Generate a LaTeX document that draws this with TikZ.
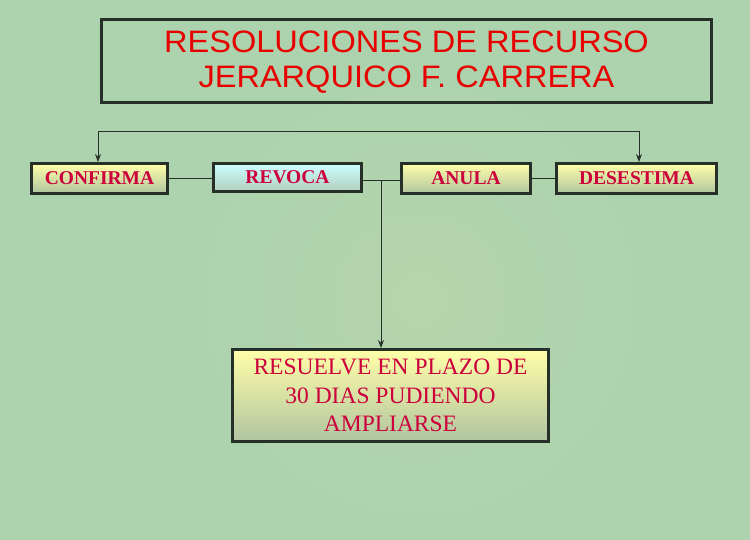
\documentclass[tikz,border=0pt]{standalone}
\usepackage{fontspec}
\setmainfont{Liberation Serif}
\newfontfamily\titlefont[FakeStretch=1.05]{Liberation Sans}
\usetikzlibrary{shadings,arrows.meta}
\definecolor{bg}{RGB}{172,211,174}
\definecolor{bgB}{RGB}{186,214,172}
\definecolor{framec}{RGB}{38,48,40}
\definecolor{titlered}{RGB}{232,0,0}
\definecolor{labelred}{RGB}{204,0,60}
\definecolor{ytop}{RGB}{255,255,168}
\definecolor{ybot}{RGB}{176,196,160}
\definecolor{ctop}{RGB}{205,255,255}
\definecolor{cbot}{RGB}{176,206,190}
\tikzset{
  ybox/.style={draw=framec, line width=3pt, top color=ytop, bottom color=ybot, inner sep=0pt, text=labelred, font=\fontsize{19.5}{22}\selectfont\bfseries},
  cbox/.style={ybox, top color=ctop, bottom color=cbot},
  conn/.style={draw=framec, line width=0.9pt},
  arr/.style={conn, -{Stealth[length=8pt,width=6pt]}}
}
\begin{document}
\begin{tikzpicture}[x=1pt,y=-1pt]
\useasboundingbox (0,0) rectangle (750,540);
\fill[bg] (0,0) rectangle (750,540);
\shade[inner color=bgB, outer color=bg, opacity=0.7] (420,300) circle (260);
\node[draw=framec, line width=3pt, minimum width=610pt, minimum height=83pt, inner sep=0pt] (title) at (406.5,61) {};
\node[text=titlered, align=center, font=\titlefont\fontsize{31}{35}\selectfont] (titletext) at (406.5,62.5) {RESOLUCIONES DE RECURSO\\JERARQUICO F. CARRERA};
\node[ybox, minimum width=136pt, minimum height=30pt] (confirma) at (99.5,178.5) {CONFIRMA};
\node[cbox, minimum width=148pt, minimum height=28pt] (revoca) at (287.5,177.5) {REVOCA};
\node[ybox, minimum width=129pt, minimum height=30pt] (anula) at (466,178.5) {ANULA};
\node[ybox, minimum width=160pt, minimum height=30pt] (desestima) at (636.5,178.5) {DESESTIMA};
\node[ybox, minimum width=316pt, minimum height=92pt, align=center, font=\fontsize{23.5}{28.5}\selectfont] (resuelve) at (390.5,395.5) {RESUELVE EN PLAZO DE\\30 DIAS PUDIENDO\\AMPLIARSE};
\coordinate (top) at (380,131);
\coordinate (j) at (381,180.5);
\draw[arr] (top) -| ([xshift=-1.5pt]confirma.north);
\draw[arr] (top) -| ([xshift=2.5pt]desestima.north);
\draw[conn] (confirma.east) -- (revoca.west |- confirma.east);
\draw[conn] (revoca.east |- j) -- (anula.west |- j);
\draw[arr] (j) -- (j |- resuelve.north);
\draw[conn] (anula.east) -- (desestima.west);
\end{tikzpicture}
\end{document}
